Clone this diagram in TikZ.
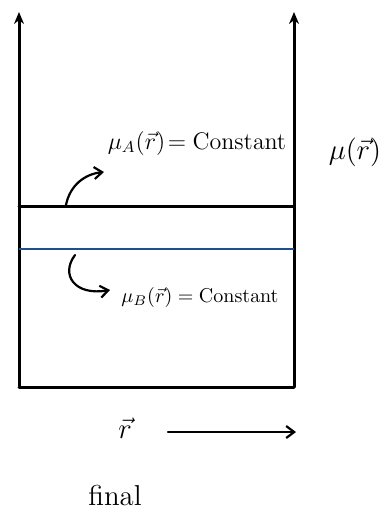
\documentclass[tikz,border=0pt]{standalone}
\usetikzlibrary{arrows.meta}
\definecolor{lineblue}{RGB}{30,80,140}
\begin{document}
\begin{tikzpicture}[x=0.5pt,y=-0.5pt,
  ink/.style={line width=1.5pt,line cap=round,line join=round},
  axisarrow/.style={ink,-{Stealth[length=6pt,width=5pt]}},
  curvearrow/.style={line width=1.1pt,line cap=round,-{Straight Barb[length=4pt,width=6pt]}},
  lbl/.style={inner sep=0pt,font=\large}]
\useasboundingbox (0,0) rectangle (389,514);
% axes and box
\coordinate (bl) at (19,387);
\coordinate (br) at (294,387);
\coordinate (tl) at (19,12);
\coordinate (tr) at (294,12);
\draw[axisarrow] (bl) -- (tl);
\draw[axisarrow] (br) -- (tr);
\draw[ink] (bl) -- (br);
% interface lines
\coordinate (al) at (19,206);
\coordinate (ar) at (294,206);
\coordinate (bbl) at (19,249);
\coordinate (bbr) at (294,249);
\draw[ink] (al) -- (ar);
\draw[line width=1.1pt,lineblue] (bbl) -- (bbr);
% labels
\node[lbl] (muA) at (197,143) {$\mu_A(\vec{r})\!=\mathrm{Constant}$};
\node[lbl,font=\Large] (mu) at (355,152) {$\mu(\vec{r})$};
\node[lbl,font=\normalsize] (muB) at (200,297) {$\mu_B(\vec{r})=\mathrm{Constant}$};
\node[lbl,font=\Large] (r) at (125,428) {$\vec{r}$};
\node[lbl,font=\Large] (final) at (115,495) {final};
% curved arrows
\coordinate (ca1) at (66,205);
\coordinate (ca1e) at (104,172);
\draw[curvearrow] (ca1) .. controls (70,185) and (85,174) .. (ca1e);
\coordinate (ca2) at (75,255);
\coordinate (ca2e) at (110,290);
\draw[curvearrow] (ca2) .. controls (60,275) and (75,296) .. (ca2e);
% r arrow
\coordinate (ra) at (168,432);
\coordinate (rb) at (296,432);
\draw[curvearrow] (ra) -- (rb);
\end{tikzpicture}
\end{document}
